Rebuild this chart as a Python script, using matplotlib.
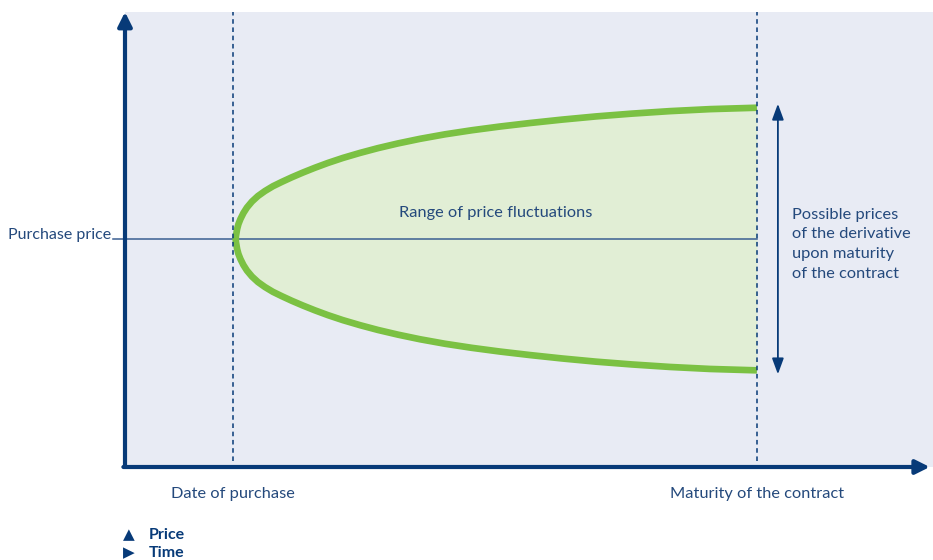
import numpy as np
import matplotlib
matplotlib.use("Agg")
import matplotlib.pyplot as plt

# upper edge of the price-fluctuation band
# time: 0 = date of purchase, 1 = maturity; price: offset from purchase price
band_time = [0.0053, 0.0057, 0.0067, 0.0080, 0.0105, 0.0143, 0.0200, 0.0267,
             0.0363, 0.0477, 0.0611, 0.0763, 0.0935, 0.1126, 0.1336, 0.1565,
             0.1813, 0.2099, 0.2424, 0.2767, 0.3149, 0.3569, 0.4046, 0.4561,
             0.5095, 0.5668, 0.6279, 0.6927, 0.7615, 0.8340, 0.9103, 1.0]
band_upper = [0.0, 0.0228, 0.0457, 0.0762, 0.1142, 0.1523, 0.1980, 0.2399,
              0.2856, 0.3275, 0.3656, 0.4021, 0.4356, 0.4707, 0.5065, 0.5430,
              0.5796, 0.6177, 0.6558, 0.6923, 0.7281, 0.7631, 0.7974, 0.8286,
              0.8568, 0.8835, 0.9094, 0.9337, 0.9551, 0.9741, 0.9893, 1.0]

purchase_time = 0.0
maturity_time = 1.0
purchase_price = 0.0

x_labels = ["Date of purchase", "Maturity of the contract"]
price_label = "Purchase price"
band_label = "Range of price fluctuations"
maturity_note = "Possible prices\nof the derivative\nupon maturity\nof the contract"
legend_items = [("\u25B2", "Price"), ("\u25B6", "Time")]

NAVY = "#073A78"
TEXT = "#24497C"
GREEN = "#7BC143"
FILL = "#E1EED5"
BG = "#E8EBF4"
FS = 11.8

plt.rcParams['font.family'] = ['Lato', 'DejaVu Sans']

W, H = 933, 560
fig = plt.figure(figsize=(W / 100, H / 100), dpi=100)
ax = fig.add_axes([125 / W, (H - 467) / H, (933 - 125) / W, (467 - 12) / H])
ax.set_facecolor(BG)
ax.set_xlim(-0.206, 1.336)
ax.set_ylim(-1.736, 1.729)
for s in ax.spines.values():
    s.set_visible(False)
ax.set_xticks([])
ax.set_yticks([])

t = np.array(band_time)
up = purchase_price + np.array(band_upper)
lo = purchase_price - np.array(band_upper)

ax.fill_between(t, lo, up, color=FILL, lw=0, zorder=1)
ax.plot(np.concatenate([t[::-1], t[1:]]), np.concatenate([up[::-1], lo[1:]]),
        color=GREEN, lw=4.8, solid_capstyle='butt', solid_joinstyle='round', zorder=3)

# purchase price line with a short leader past the axis
ax.plot([-0.229, maturity_time], [purchase_price, purchase_price],
        color="#3A5F92", lw=1.1, clip_on=False, zorder=2)
ax.text(-0.232, purchase_price, price_label, ha='right', va='baseline',
        fontsize=11.5, color=TEXT)

# dashed time markers
for tx in (purchase_time, maturity_time):
    ax.plot([tx, tx], [-1.69, 1.73], color=NAVY, lw=1.1,
            linestyle=(0, (3.0, 2.4)), zorder=4)

ax.text(0.501, 0.198, band_label, ha='center', va='center', fontsize=FS, color=TEXT)

# range arrow at maturity
ax.annotate('', xy=(1.040, 1.03), xytext=(1.040, -1.03),
            arrowprops=dict(arrowstyle='<|-|>,head_length=0.6,head_width=0.22',
                            mutation_scale=16, lw=1.3, color=NAVY,
                            shrinkA=0, shrinkB=0))
ax.text(1.067, 0.240, maturity_note, ha='left', va='top', fontsize=FS,
        color=TEXT, linespacing=1.54)

# axes arrows
ax.annotate('', xy=(0, 1), xytext=(0, 0), xycoords='axes fraction',
            arrowprops=dict(arrowstyle='-|>,head_length=0.6,head_width=0.3',
                            mutation_scale=14, lw=3, color=NAVY,
                            shrinkA=0, shrinkB=0), annotation_clip=False)
ax.annotate('', xy=(0.996, 0), xytext=(-0.002, 0), xycoords='axes fraction',
            arrowprops=dict(arrowstyle='-|>,head_length=0.6,head_width=0.3',
                            mutation_scale=14, lw=3, color=NAVY,
                            shrinkA=0, shrinkB=0), annotation_clip=False)

xt = ax.get_xaxis_transform()
for tx, lab in zip((purchase_time, maturity_time), x_labels):
    ax.text(tx, -0.060, lab, transform=xt, ha='center', va='center',
            fontsize=FS, color=TEXT)

for i, (sym, lab) in enumerate(legend_items):
    yy = 1 - (535 + 18 * i) / H
    fig.text(123 / W, yy, sym, ha='left', va='center', fontsize=11, color=NAVY,
             family=['DejaVu Sans'])
    fig.text(149 / W, yy, lab, ha='left', va='center', fontsize=11.5,
             fontweight='bold', color=NAVY)

fig.savefig("out.png", dpi=100)
